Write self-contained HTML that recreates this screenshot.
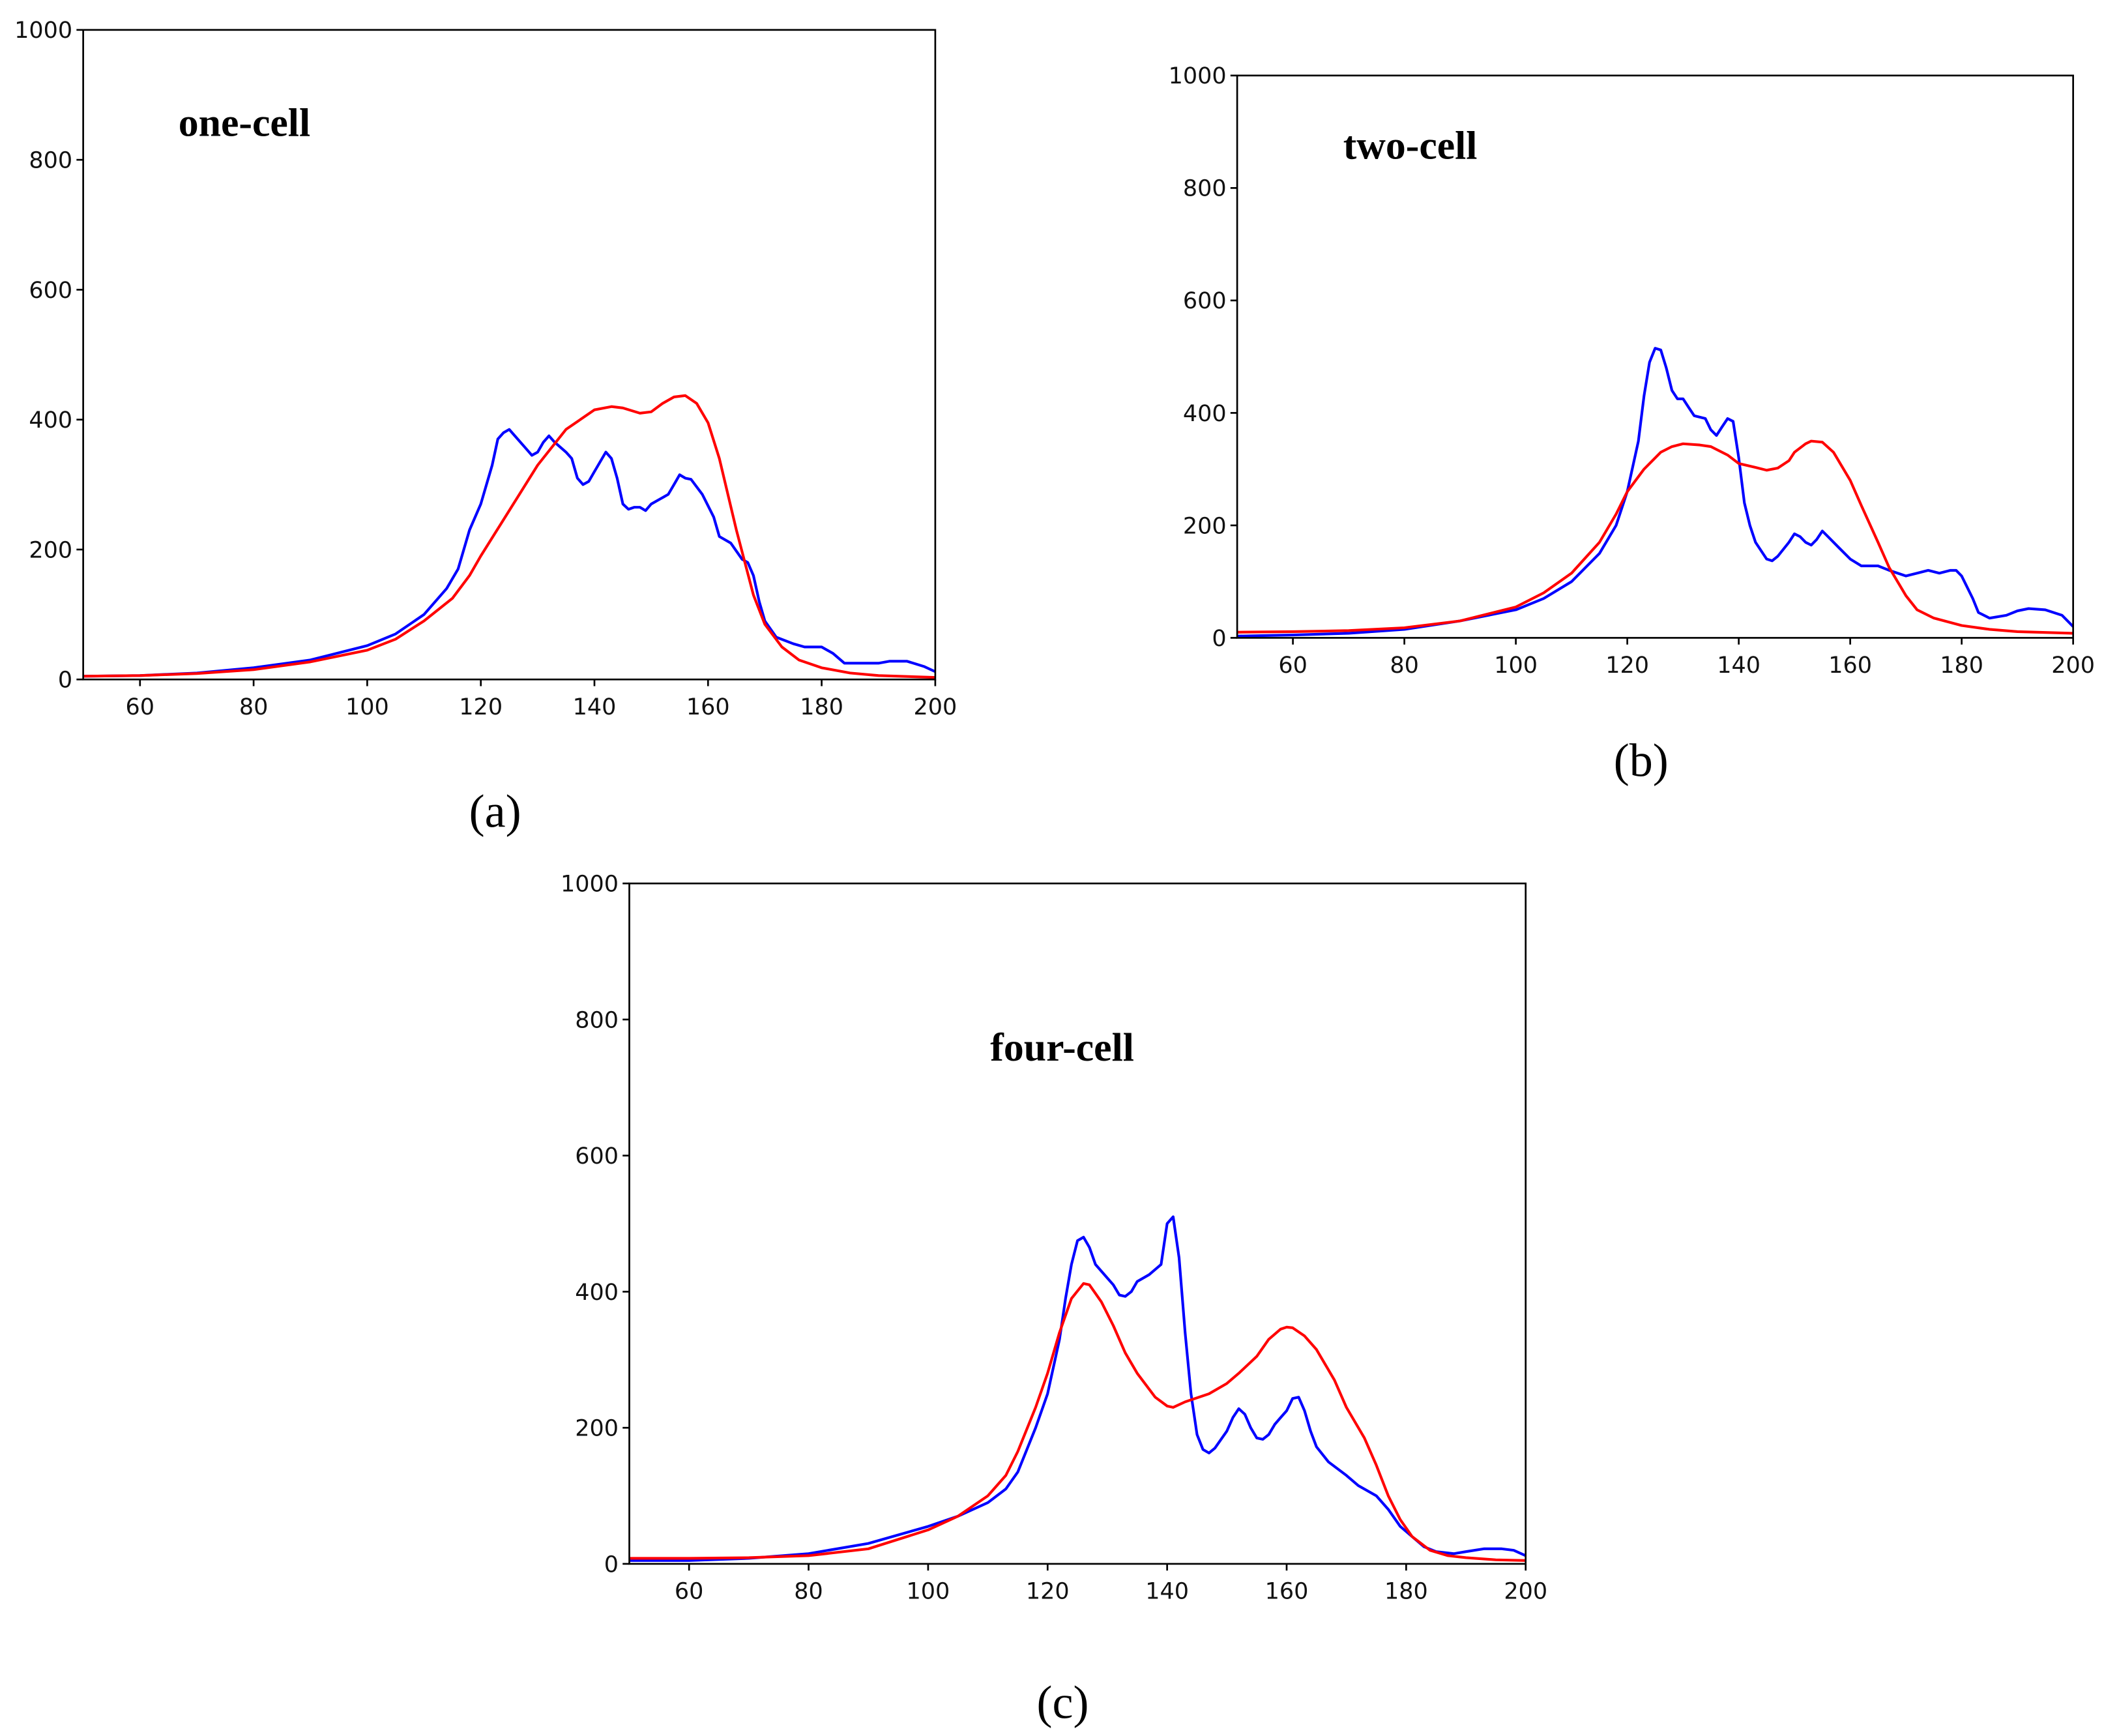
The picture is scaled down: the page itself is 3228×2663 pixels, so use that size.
<!DOCTYPE html>
<html><head><meta charset="utf-8"><style>
html,body{margin:0;padding:0;background:#fff;}
svg{display:block;}
.tick{font-family:"DejaVu Sans","Liberation Sans",sans-serif;font-size:17px;fill:#111;}
.title{font-family:"Liberation Serif",serif;font-weight:bold;font-size:30px;fill:#000;}
.cap{font-family:"Liberation Serif",serif;font-size:35px;fill:#000;}
</style></head><body>
<svg id="fig" width="3228" height="2663" viewBox="0 0 1568 1293" xmlns="http://www.w3.org/2000/svg"></svg>
<script>
const xTicks=[60,80,100,120,140,160,180,200];
const yTicks=[0,200,400,600,800,1000];
const aBlueX=[50,60,70,80,90,100,105,110,114,116,118,120,122,123,124,125,126,128,129,130,131,132,133,135,136,137,138,139,140,142,143,144,145,146,147,148,149,150,152,153,154,155,156,157,159,161,162,164,166,167,168,169,170,172,175,177,180,182,184,186,190,192,195,198,200];
const aBlueY=[5,6,10,18,30,52,70,100,140,170,230,270,330,370,380,385,375,355,345,350,365,375,365,350,340,310,300,305,320,350,340,310,270,262,265,265,260,270,280,285,300,315,310,308,285,250,220,210,185,180,160,120,90,65,55,50,50,40,25,25,25,28,28,20,12];
const aRedX=[50,60,70,80,90,100,105,110,115,118,120,125,130,135,140,143,145,148,150,152,154,156,158,160,162,165,168,170,173,176,180,185,190,200];
const aRedY=[5,6,9,15,27,45,62,90,125,160,190,260,330,385,415,420,418,410,412,425,435,437,425,395,340,230,130,85,50,30,18,10,6,3];
const bBlueX=[50,60,70,80,90,100,105,110,115,118,120,122,123,124,125,126,127,128,129,130,131,132,134,135,136,137,138,139,140,141,142,143,145,146,147,149,150,151,152,153,154,155,156,158,160,162,165,167,170,172,174,176,178,179,180,182,183,185,188,190,192,195,198,200];
const bBlueY=[3,5,8,15,30,50,70,100,150,200,260,350,430,490,515,512,480,440,425,425,410,395,390,370,360,375,390,385,320,240,200,170,140,137,145,170,185,180,170,165,175,190,180,160,140,128,128,120,110,115,120,115,120,120,110,70,45,35,40,48,52,50,40,20];
const bRedX=[50,60,70,80,90,100,105,110,115,118,120,123,126,128,130,133,135,138,140,143,145,147,149,150,152,153,155,157,160,162,165,167,170,172,175,180,185,190,200];
const bRedY=[10,11,13,18,30,55,80,115,170,220,260,300,330,340,345,343,340,325,310,303,298,302,315,330,345,350,348,330,280,235,170,125,75,50,35,22,15,11,8];
const cBlueX=[50,60,70,80,90,100,105,110,113,115,118,120,122,123,124,125,126,127,128,130,131,132,133,134,135,137,139,140,141,142,143,144,145,146,147,148,150,151,152,153,154,155,156,157,158,159,160,161,162,163,164,165,167,170,172,175,177,179,181,183,185,188,190,193,196,198,200];
const cBlueY=[5,5,8,15,30,55,70,90,110,135,200,250,330,390,440,475,480,465,440,420,410,395,393,400,415,425,440,500,510,450,340,250,190,168,163,170,195,215,228,220,200,185,183,190,205,215,225,243,245,225,195,172,150,130,115,100,80,55,40,25,18,15,18,22,22,20,12];
const cRedX=[50,60,70,80,90,100,105,110,113,115,118,120,122,124,126,127,129,131,133,135,138,140,141,143,147,150,152,155,157,159,160,161,163,165,168,170,173,175,177,179,181,184,187,190,195,200];
const cRedY=[8,8,9,12,22,50,70,100,130,165,230,280,340,390,412,410,385,350,310,280,245,232,230,238,250,265,280,305,330,345,348,347,335,315,270,230,185,145,100,65,40,20,12,9,6,5];

const NS="http://www.w3.org/2000/svg";
const svg=document.getElementById('fig');
function mk(tag,attrs,parent){const e=document.createElementNS(NS,tag);for(const k in attrs)e.setAttribute(k,attrs[k]);(parent||svg).appendChild(e);return e;}

function panel(id,L,R,T,B,title,tx,ty,cap,cx,cy,bx,by,rx,ry){
  const g=mk('g',{});
  
  
  const xs=v=>L+(v-50)/150*(R-L);
  const ys=v=>B-v/1000*(B-T);
  yTicks.forEach(t=>{
    const l=mk('line',{x1:L-5,x2:L,y1:ys(t),y2:ys(t),stroke:'#000','stroke-width':1.3},g);
    
    
    const s=mk('text',{x:L-8,y:ys(t)+6,'text-anchor':'end',class:'tick'},g);
    
    
    s.textContent=t;
  });
  xTicks.forEach(t=>{
    const l=mk('line',{x1:xs(t),x2:xs(t),y1:B,y2:B+5,stroke:'#000','stroke-width':1.3},g);
    
    
    const s=mk('text',{x:xs(t),y:B+26,'text-anchor':'middle',class:'tick'},g);
    
    
    s.textContent=t;
  });
  const pts=(X,Y)=>X.map((x,i)=>xs(x).toFixed(1)+','+ys(Y[i]).toFixed(1)).join(' ');
  const b=mk('polyline',{points:pts(bx,by),fill:'none',stroke:'#0000ff','stroke-width':2,'stroke-linejoin':'round'},g);
  
  
  const r=mk('polyline',{points:pts(rx,ry),fill:'none',stroke:'#ff0000','stroke-width':2,'stroke-linejoin':'round'},g);
  
  
  const f=mk('rect',{x:L,y:T,width:R-L,height:B-T,fill:'none',stroke:'#000','stroke-width':1.3},g);
  
  
  const ti=mk('text',{x:tx,y:ty,class:'title'},g);
  
  
  ti.textContent=title;
  const c=mk('text',{x:cx,y:cy,'text-anchor':'middle',class:'cap'},g);
  
  
  c.textContent=cap;
}
panel('a',62,697,22,506,'one-cell',133,101,'(a)',369,616,aBlueX,aBlueY,aRedX,aRedY);
panel('b',922,1545,56,475,'two-cell',1001,118,'(b)',1223,578,bBlueX,bBlueY,bRedX,bRedY);
panel('c',469,1137,658,1165,'four-cell',738,790,'(c)',792,1280,cBlueX,cBlueY,cRedX,cRedY);
</script>
</body></html>
